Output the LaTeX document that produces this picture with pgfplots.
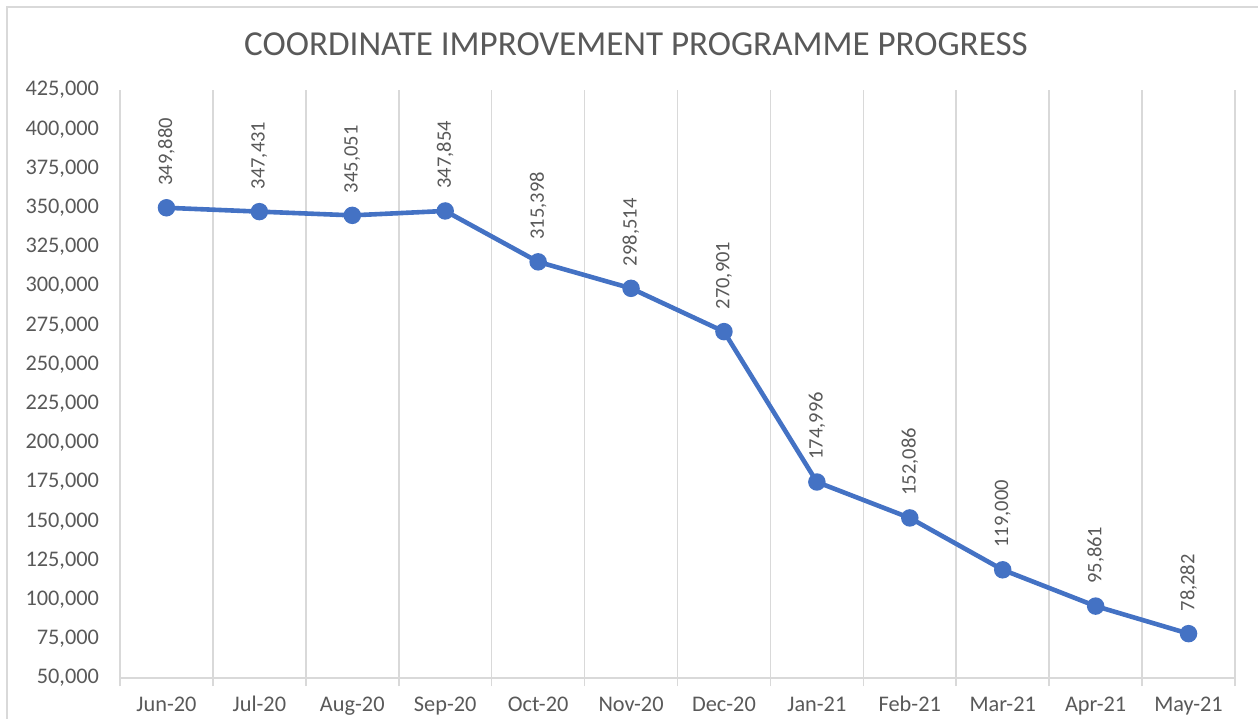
\documentclass[border=0pt]{standalone}
\usepackage{fontspec}
\setmainfont{Carlito}
\usepackage{pgfplots}
\pgfplotsset{compat=1.18}
\definecolor{txt}{HTML}{595959}
\definecolor{gridc}{HTML}{D9D9D9}
\definecolor{framec}{HTML}{D9D9D9}
\definecolor{line}{HTML}{4472C4}
\begin{document}
\begin{tikzpicture}
\useasboundingbox (0,0) rectangle (629bp,359.5bp);
\draw[framec, line width=0.8bp] (3.5bp,0) -- (3.5bp,356bp) -- (629bp,356bp);
\node[txt, font=\fontsize{17.6}{20}\selectfont] at (318bp,337.5bp) {COORDINATE IMPROVEMENT PROGRAMME PROGRESS};
\begin{axis}[
  at={(60bp,20.5bp)}, anchor=south west,
  scale only axis, width=557.5bp, height=294bp,
  xmin=-0.5, xmax=11.5, ymin=50000, ymax=425000,
  xtick={0,...,11},
  xticklabels={Jun-20,Jul-20,Aug-20,Sep-20,Oct-20,Nov-20,Dec-20,Jan-21,Feb-21,Mar-21,Apr-21,May-21},
  minor xtick={-0.5,0.5,...,11.5},
  ytick={50000,75000,...,425000},
  xmajorgrids=false, xminorgrids=true,
  minor x grid style={gridc, line width=0.8bp},
  axis lines*=left,
  x axis line style={gridc, line width=0.8bp, -},
  y axis line style={draw=none},
  tick align=outside,
  major tick length=0pt,
  minor tick length=4bp,
  minor x tick style={gridc, line width=0.8bp},
  every tick label/.append style={txt, font=\fontsize{11.2}{13}\selectfont},
  /pgf/number format/assume math mode=true,
  /pgf/number format/.cd, fixed, 1000 sep={,}, /pgfplots/.cd,
  scaled y ticks=false,
  yticklabel style={xshift=-7bp},
  xticklabel style={anchor=base, yshift=-16.5bp},
  clip=false,
  nodes near coords,
  every node near coord/.append style={rotate=90, anchor=west, inner xsep=10bp, txt, font=\fontsize{10.3}{12}\selectfont},
]
\addplot[line, line width=2.3bp, mark=*, mark size=3.2bp, mark options={fill=line, draw=line}] coordinates {
(0,349880) (1,347431) (2,345051) (3,347854) (4,315398) (5,298514)
(6,270901) (7,174996) (8,152086) (9,119000) (10,95861) (11,78282)
};
\end{axis}
\end{tikzpicture}
\end{document}
